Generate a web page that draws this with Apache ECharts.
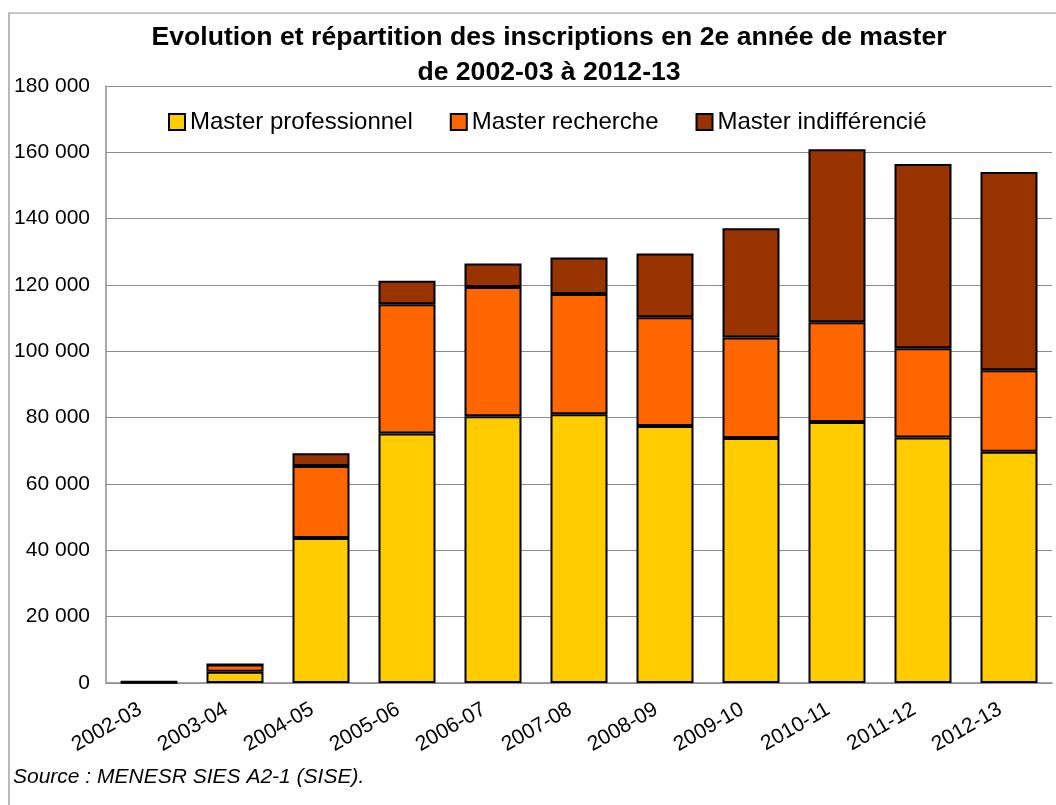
<!DOCTYPE html>
<html>
<head>
<meta charset="utf-8">
<script src="https://cdn.jsdelivr.net/npm/echarts@6/dist/echarts.min.js"></script>
<style>
  html, body { margin: 0; padding: 0; background: #fff; }
  #chart { width: 1056px; height: 805px; }
</style>
</head>
<body>
<div id="chart"></div>
<script>
// années universitaires
var years = ['2002-03', '2003-04', '2004-05', '2005-06', '2006-07', '2007-08',
             '2008-09', '2009-10', '2010-11', '2011-12', '2012-13'];

// effectifs
var masterPro = [200, 3400, 43700, 75200, 80400, 81000, 77500, 73900, 78700, 74000, 69700];
var masterRecherche = [100, 2200, 21700, 39000, 39000, 36300, 32800, 30300, 30100, 26900, 24600];
var masterIndiff = [200, 0, 3900, 7100, 7100, 11000, 19200, 32900, 52100, 55600, 59800];

var seriesNames = ['Master professionnel', 'Master recherche', 'Master indifférencié'];
var seriesColors = ['#FFCC00', '#FF6600', '#993300'];

var font = "'Liberation Sans', Arial, sans-serif";

function fmt(v) {
    return String(v).replace(/\B(?=(\d{3})+(?!\d))/g, ' ');
}

function barSeries(i, data) {
    return {
        name: seriesNames[i],
        type: 'bar',
        stack: 'total',
        barWidth: 57,
        data: data,
        itemStyle: {
            color: seriesColors[i],
            borderColor: '#000',
            borderWidth: 2
        }
    };
}

var option = {
    animation: false,
    backgroundColor: '#fff',
    textStyle: { fontFamily: font },
    graphic: [
        {
            type: 'rect',
            shape: { x: 9, y: 13, width: 1100, height: 900 },
            style: { fill: 'none', stroke: '#8c8c8c', lineWidth: 1.2 },
            silent: true
        },
        {
            type: 'text',
            x: 549,
            y: 20,
            style: {
                text: 'Evolution et répartition des inscriptions en 2e année de master\nde 2002-03 à 2012-13',
                font: "bold 26.6px 'Liberation Sans', Arial, sans-serif",
                fill: '#000',
                textAlign: 'center',
                lineHeight: 35
            }
        },
        {
            type: 'text',
            left: 13,
            top: 767,
            style: {
                text: 'Source : MENESR SIES A2-1 (SISE).',
                font: "italic 21px 'Liberation Sans', Arial, sans-serif",
                fill: '#000'
            }
        }
    ],
    legend: {
        data: seriesNames,
        top: 105,
        left: 163,
        itemWidth: 16,
        itemHeight: 16,
        itemGap: 37,
        icon: 'rect',
        itemStyle: { borderColor: '#000', borderWidth: 2 },
        textStyle: { fontSize: 24, color: '#000', fontFamily: font }
    },
    grid: {
        left: 106,
        right: 4,
        top: 86,
        bottom: 122
    },
    xAxis: {
        type: 'category',
        data: years,
        axisLine: { lineStyle: { color: '#8c8c8c', width: 1.5 } },
        axisTick: { show: false },
        axisLabel: {
            rotate: 30,
            fontSize: 21,
            color: '#000',
            margin: 20,
            padding: [0, 10, 0, 0],
            fontFamily: font
        }
    },
    yAxis: {
        type: 'value',
        min: 0,
        max: 180000,
        interval: 20000,
        axisLine: { show: true, lineStyle: { color: '#8c8c8c', width: 1.5 } },
        axisTick: { show: false },
        splitLine: { lineStyle: { color: '#8c8c8c', width: 1 } },
        axisLabel: {
            fontSize: 21,
            color: '#000',
            margin: 16,
            fontFamily: font,
            formatter: fmt
        }
    },
    series: [
        barSeries(0, masterPro),
        barSeries(1, masterRecherche),
        barSeries(2, masterIndiff)
    ]
};

var myChart = echarts.init(document.getElementById('chart'));
myChart.setOption(option);
</script>
</body>
</html>
